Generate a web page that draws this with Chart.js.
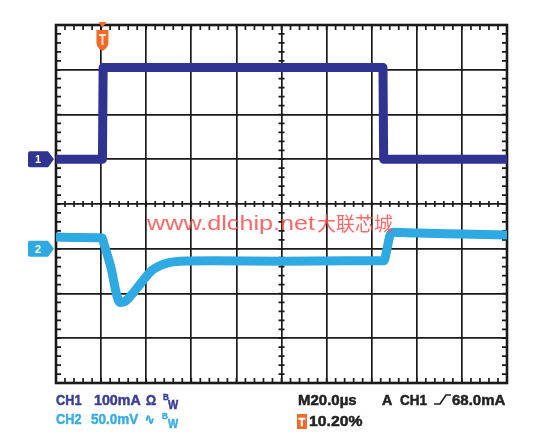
<!DOCTYPE html>
<html>
<head>
<meta charset="utf-8">
<script src="https://cdn.jsdelivr.net/npm/chart.js@4.4.0/dist/chart.umd.min.js"></script>
<style>
html, body { margin: 0; padding: 0; background: #fff; }
#wrap { width: 542px; height: 446px; }
</style>
</head>
<body>
<div id="wrap"><canvas id="scope" width="542" height="446"></canvas></div>
<script>
// time in microseconds (M20.0us per div), level in divisions counted from the bottom of the screen
const ch1Time  = [0, 20.6, 20.9, 145.0, 145.3, 200];
const ch1Level = [5.0, 5.0, 7.05, 7.05, 5.0, 5.0];

const ch2Time  = [0, 10, 20.4, 21.2, 24.5, 27.0, 28.4, 30.6, 33.5, 36.4, 39.5, 42.6, 46, 49.2, 55, 70, 100, 130, 145.4, 146.6, 148.0, 149.5, 160, 180, 200];
const ch2Level = [3.26, 3.25, 3.24, 3.12, 2.55, 1.95, 1.80, 1.82, 1.97, 2.15, 2.35, 2.52, 2.62, 2.68, 2.72, 2.73, 2.72, 2.73, 2.73, 2.95, 3.28, 3.37, 3.35, 3.33, 3.31];

const ch1Ground = 5;
const ch2Ground = 3;
const triggerTime = 20.6;

const timeMax = 200, timeDiv = 20;
const levelMax = 8, levelDiv = 1;

const ch1Color = '#2f3391';
const ch2Color = '#2ea9e1';
const gridColor = '#1a1a1a';

function toPoints(xs, ys) {
    return xs.map((x, i) => ({ x: x, y: ys[i] }));
}

const scopeDecor = {
    id: 'scopeDecor',
    beforeDatasetsDraw(chart) {
        const ctx = chart.ctx;
        const a = chart.chartArea;
        const xs = chart.scales.x, ys = chart.scales.y;
        const xc = xs.getPixelForValue(timeMax / 2);
        const yc = ys.getPixelForValue(levelMax / 2);
        ctx.save();
        ctx.strokeStyle = gridColor;
        ctx.lineWidth = 1.7;
        ctx.beginPath();
        // minor ticks, 5 per division
        for (let t = 0; t <= timeMax; t += timeDiv / 5) {
            const px = xs.getPixelForValue(t);
            ctx.moveTo(px, a.top); ctx.lineTo(px, a.top + 5);
            ctx.moveTo(px, a.bottom); ctx.lineTo(px, a.bottom - 5);
            ctx.moveTo(px, yc - 3); ctx.lineTo(px, yc + 3);
        }
        for (let v = 0; v <= levelMax + 0.001; v += levelDiv / 5) {
            const py = ys.getPixelForValue(v);
            ctx.moveTo(a.left, py); ctx.lineTo(a.left + 5, py);
            ctx.moveTo(a.right, py); ctx.lineTo(a.right - 5, py);
            ctx.moveTo(xc - 3, py); ctx.lineTo(xc + 3, py);
        }
        ctx.stroke();
        ctx.lineWidth = 2.6;
        ctx.strokeRect(a.left, a.top, a.right - a.left, a.bottom - a.top);
        ctx.restore();
    },
    afterDatasetsDraw(chart) {
        const ctx = chart.ctx;
        const a = chart.chartArea;
        const xs = chart.scales.x, ys = chart.scales.y;
        ctx.save();

        // channel ground markers
        function marker(level, color, label) {
            const py = ys.getPixelForValue(level);
            const x0 = a.left - 28, x1 = a.left - 8, x2 = a.left - 2;
            ctx.fillStyle = color;
            ctx.beginPath();
            ctx.moveTo(x0 + 2, py - 8);
            ctx.lineTo(x1, py - 8);
            ctx.lineTo(x2, py);
            ctx.lineTo(x1, py + 8);
            ctx.lineTo(x0 + 2, py + 8);
            ctx.quadraticCurveTo(x0, py + 8, x0, py + 6);
            ctx.lineTo(x0, py - 6);
            ctx.quadraticCurveTo(x0, py - 8, x0 + 2, py - 8);
            ctx.fill();
            ctx.fillStyle = '#fff';
            ctx.font = 'bold 11px "Liberation Sans", Arial, sans-serif';
            ctx.textAlign = 'center';
            ctx.textBaseline = 'middle';
            ctx.fillText(label, x0 + 10, py + 1);
        }
        marker(ch1Ground, ch1Color, '1');
        marker(ch2Ground, ch2Color, '2');

        // trigger position marker
        const tx = xs.getPixelForValue(triggerTime);
        const orange = '#f26a2a';
        ctx.fillStyle = orange;
        ctx.beginPath();
        ctx.moveTo(tx - 4, a.top - 3);
        ctx.lineTo(tx + 4, a.top - 3);
        ctx.lineTo(tx, a.top + 3);
        ctx.fill();
        ctx.beginPath();
        ctx.moveTo(tx - 6, a.top + 5);
        ctx.lineTo(tx + 6, a.top + 5);
        ctx.lineTo(tx + 6, a.top + 17);
        ctx.quadraticCurveTo(tx + 6, a.top + 23, tx, a.top + 26);
        ctx.quadraticCurveTo(tx - 6, a.top + 23, tx - 6, a.top + 17);
        ctx.closePath();
        ctx.fill();
        ctx.fillStyle = '#fde3d2';
        ctx.fillRect(tx - 3.5, a.top + 9, 7, 2);
        ctx.fillRect(tx - 1, a.top + 9, 2, 11);

        // watermark
        ctx.fillStyle = 'rgba(255, 75, 75, 0.85)';
        ctx.textBaseline = 'alphabetic';
        ctx.textAlign = 'left';
        ctx.font = '21px "Liberation Sans", Arial, sans-serif';
        ctx.save();
        ctx.translate(147, 230);
        ctx.scale(1.2, 1);
        ctx.fillText('www.dlchip.net', 0, 0);
        ctx.restore();
        ctx.font = '19px "Noto Sans CJK SC", sans-serif';
        ctx.fillText('大联芯城', 317, 231);

        // readout
        function txt(s, x, y, color, size, sx) {
            ctx.save();
            ctx.fillStyle = color;
            ctx.strokeStyle = color;
            ctx.lineWidth = 0.5;
            ctx.font = 'bold ' + size + 'px "Liberation Sans", Arial, sans-serif';
            ctx.translate(x, y);
            ctx.scale(sx, 1);
            ctx.fillText(s, 0, 0);
            ctx.strokeText(s, 0, 0);
            ctx.restore();
        }
        const c1 = '#3b3e98', c2 = '#3aaee3', ck = '#222';
        txt('CH1', 56, 405, c1, 15, 0.85);
        txt('100mA', 94, 405, c1, 15, 0.95);
        txt('\u03A9', 146, 405, c1, 14, 0.9);
        txt('B', 163, 400, c1, 9, 0.9);
        txt('W', 168, 409, c1, 12, 0.9);
        txt('CH2', 56, 424, c2, 15, 0.85);
        txt('50.0mV', 91, 424, c2, 15, 0.9);
        txt('\u223F', 145, 424, c2, 14, 0.8);
        txt('B', 162, 419, c2, 9, 0.9);
        txt('W', 168, 428, c2, 12, 0.9);

        txt('M20.0\u00B5s', 298, 405, ck, 15, 1.0);
        txt('A', 382, 405, ck, 15, 0.95);
        txt('CH1', 400, 405, ck, 15, 0.9);
        ctx.strokeStyle = ck;
        ctx.lineWidth = 1.7;
        ctx.beginPath();
        ctx.moveTo(434, 404); ctx.lineTo(440, 404); ctx.lineTo(446, 395); ctx.lineTo(451, 395);
        ctx.stroke();
        txt('68.0mA', 452, 405, ck, 15, 1.0);

        ctx.fillStyle = orange;
        ctx.fillRect(297, 414, 10, 15);
        txt('T', 298.5, 426, '#fff', 11, 1);
        txt('10.20%', 309, 426, ck, 15, 1.05);

        ctx.restore();
    }
};

const chart = new Chart(document.getElementById('scope').getContext('2d'), {
    type: 'line',
    data: {
        datasets: [{
            label: 'CH1',
            data: toPoints(ch1Time, ch1Level),
            borderColor: ch1Color,
            borderWidth: 9,
            pointRadius: 0,
            tension: 0,
            borderJoinStyle: 'round'
        }, {
            label: 'CH2',
            data: toPoints(ch2Time, ch2Level),
            borderColor: ch2Color,
            borderWidth: 9,
            pointRadius: 0,
            cubicInterpolationMode: 'monotone',
            borderJoinStyle: 'round'
        }]
    },
    options: {
        responsive: false,
        animation: false,
        devicePixelRatio: 1,
        layout: { padding: { left: 56, right: 35, top: 25, bottom: 63 } },
        plugins: { legend: { display: false }, tooltip: { enabled: false } },
        scales: {
            x: {
                type: 'linear',
                min: 0,
                max: timeMax,
                ticks: { stepSize: timeDiv, display: false },
                grid: { color: gridColor, lineWidth: 1.7, drawTicks: false },
                border: { display: false }
            },
            y: {
                type: 'linear',
                min: 0,
                max: levelMax,
                ticks: { stepSize: levelDiv, display: false },
                grid: { color: gridColor, lineWidth: 1.7, drawTicks: false },
                border: { display: false }
            }
        }
    },
    plugins: [scopeDecor]
});
</script>
</body>
</html>
